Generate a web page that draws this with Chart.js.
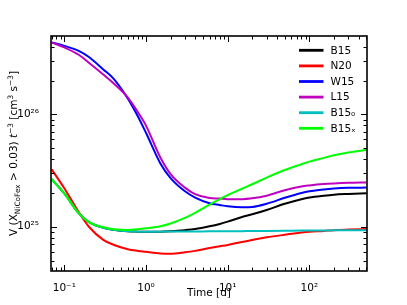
<!DOCTYPE html>
<html>
<head>
<meta charset="utf-8">
<script src="https://cdn.jsdelivr.net/npm/chart.js@4.4.0/dist/chart.umd.min.js"></script>
<style>
  html, body { margin: 0; padding: 0; background: #fff; }
</style>
</head>
<body>
<canvas id="chart" width="407" height="305"></canvas>
<script>
// time axis (days) shared by all series
const time = [0.07, 0.1, 0.15, 0.2, 0.3, 0.4, 0.6, 0.8, 1, 1.5, 2, 3, 4, 6, 8, 10, 15, 20, 30, 50, 80, 100, 150, 200, 300, 500];

// V (X_NiCoFex > 0.03) t^-3  [cm^3 s^-3]
const b15 = [2.65e25, 1.98e25, 1.32e25, 1.10e25, 9.80e24, 9.40e24, 9.10e24, 9.05e24, 9.04e24, 9.04e24, 9.12e24, 9.33e24, 9.55e24, 1.01e25, 1.06e25, 1.11e25, 1.22e25, 1.29e25, 1.41e25, 1.60e25, 1.76e25, 1.82e25, 1.89e25, 1.93e25, 1.96e25, 1.99e25];
const n20 = [3.24e25, 2.20e25, 1.35e25, 1.00e25, 7.65e24, 6.92e24, 6.31e24, 6.10e24, 5.98e24, 5.79e24, 5.75e24, 5.92e24, 6.10e24, 6.46e24, 6.70e24, 6.89e24, 7.33e24, 7.62e24, 8.05e24, 8.49e24, 8.87e24, 9.02e24, 9.18e24, 9.33e24, 9.44e24, 9.55e24];
const w15 = [4.37e26, 4.07e26, 3.67e26, 3.24e26, 2.51e26, 2.08e26, 1.38e26, 9.53e25, 6.86e25, 3.66e25, 2.71e25, 2.07e25, 1.82e25, 1.62e25, 1.56e25, 1.52e25, 1.49e25, 1.50e25, 1.60e25, 1.81e25, 2.00e25, 2.07e25, 2.15e25, 2.19e25, 2.22e25, 2.23e25];
const l15 = [4.37e26, 3.94e26, 3.39e26, 2.88e26, 2.26e26, 1.89e26, 1.41e26, 1.04e26, 7.94e25, 4.13e25, 2.94e25, 2.23e25, 1.95e25, 1.80e25, 1.78e25, 1.76e25, 1.76e25, 1.79e25, 1.89e25, 2.11e25, 2.28e25, 2.33e25, 2.40e25, 2.43e25, 2.46e25, 2.48e25];
const b15zero = [2.65e25, 1.98e25, 1.32e25, 1.10e25, 9.80e24, 9.40e24, 9.10e24, 9.05e24, 9.04e24, 9.05e24, 9.06e24, 9.07e24, 9.08e24, 9.10e24, 9.11e24, 9.12e24, 9.14e24, 9.16e24, 9.18e24, 9.21e24, 9.24e24, 9.25e24, 9.27e24, 9.29e24, 9.31e24, 9.33e24];
const b15x = [2.65e25, 1.98e25, 1.32e25, 1.10e25, 9.89e24, 9.51e24, 9.38e24, 9.51e24, 9.68e24, 1.01e25, 1.07e25, 1.20e25, 1.33e25, 1.57e25, 1.76e25, 1.91e25, 2.18e25, 2.39e25, 2.74e25, 3.20e25, 3.60e25, 3.80e25, 4.10e25, 4.32e25, 4.57e25, 4.84e25];

const seriesNames = ["B15", "N20", "W15", "L15", "B15₀", "B15ₓ"];
const seriesColors = ["#000000", "#ff0000", "#0000ff", "#bf00bf", "#00bfbf", "#00ff00"];
const seriesValues = [b15, n20, w15, l15, b15zero, b15x];

// tick labels
const xMajor = [0.1, 1, 10, 100];
const xMajorLabels = ["10⁻¹", "10⁰", "10¹", "10²"];
const yMajor = [1e25, 1e26];
const yMajorLabels = ["10²⁵", "10²⁶"];

const xMin = 0.0687, xMax = 508;
const yMin = 4.04e24, yMax = 4.98e26;

const FONT = "DejaVu Sans";
const tickFont = { family: FONT, size: 10.5 };

// majors plus 2..9 minors for each decade inside the range
function logTicks(min, max) {
  const out = [];
  for (let e = Math.floor(Math.log10(min)); e <= Math.ceil(Math.log10(max)); e++) {
    for (let k = 1; k <= 9; k++) {
      const v = k * Math.pow(10, e);
      if (v >= min && v <= max) out.push({ value: v, major: k === 1 });
    }
  }
  return out;
}

function labelFor(value, majors, labels) {
  const i = majors.findIndex((m) => Math.abs(m - value) / m < 1e-6);
  return i >= 0 ? labels[i] : "";
}

// inward ticks on all four sides + frame
const frameTicks = {
  id: "frameTicks",
  afterDatasetsDraw(chart) {
    const ctx = chart.ctx;
    const { left, right, top, bottom } = chart.chartArea;
    const xs = chart.scales.x, ys = chart.scales.y;
    ctx.save();
    ctx.strokeStyle = "#000";
    ctx.lineWidth = 1;
    ctx.beginPath();
    xs.ticks.forEach((t) => {
      const x = Math.round(xs.getPixelForValue(t.value)) + 0.5;
      const len = t.major ? 6 : 3.5;
      ctx.moveTo(x, bottom); ctx.lineTo(x, bottom - len);
      ctx.moveTo(x, top); ctx.lineTo(x, top + len);
    });
    ys.ticks.forEach((t) => {
      const y = Math.round(ys.getPixelForValue(t.value)) + 0.5;
      const len = t.major ? 6 : 3.5;
      ctx.moveTo(left, y); ctx.lineTo(left + len, y);
      ctx.moveTo(right, y); ctx.lineTo(right - len, y);
    });
    ctx.stroke();
    ctx.lineWidth = 1.6;
    ctx.strokeRect(left, top, right - left, bottom - top);
    ctx.restore();
  },
};

// text with sub/superscripts, drawn left to right from x
function drawRich(ctx, parts, x, y) {
  parts.forEach((p) => {
    ctx.font = (p.italic ? "italic " : "") + p.size + "px '" + FONT + "'";
    ctx.fillText(p.text, x, y + (p.dy || 0));
    x += ctx.measureText(p.text).width;
  });
}
function richWidth(ctx, parts) {
  let w = 0;
  parts.forEach((p) => {
    ctx.font = (p.italic ? "italic " : "") + p.size + "px '" + FONT + "'";
    w += ctx.measureText(p.text).width;
  });
  return w;
}

const yTitleParts = [
  { text: "V (X", size: 10.5 },
  { text: "NiCoFex", size: 7.4, dy: 2.6 },
  { text: " > 0.03) ", size: 10.5 },
  { text: "t", size: 10.5, italic: true },
  { text: "−3", size: 7.4, dy: -4.2 },
  { text: " [cm", size: 10.5 },
  { text: "3", size: 7.4, dy: -4.2 },
  { text: " s", size: 10.5 },
  { text: "−3", size: 7.4, dy: -4.2 },
  { text: "]", size: 10.5 },
];

const yTitle = {
  id: "yTitle",
  afterDraw(chart) {
    const ctx = chart.ctx;
    const { top, bottom } = chart.chartArea;
    ctx.save();
    ctx.fillStyle = "#000";
    ctx.textBaseline = "alphabetic";
    ctx.translate(17, (top + bottom) / 2);
    ctx.rotate(-Math.PI / 2);
    const w = richWidth(ctx, yTitleParts);
    drawRich(ctx, yTitleParts, -w / 2, 0);
    ctx.restore();
  },
};

// legend in the upper right corner of the axes
const cornerLegend = {
  id: "cornerLegend",
  afterDraw(chart) {
    const ctx = chart.ctx;
    ctx.save();
    chart.data.datasets.forEach((ds, i) => {
      const y = 50.3 + i * 15.6;
      ctx.strokeStyle = ds.borderColor;
      ctx.lineWidth = 2.8;
      ctx.beginPath();
      ctx.moveTo(299, y);
      ctx.lineTo(323.5, y);
      ctx.stroke();
      ctx.fillStyle = "#000";
      ctx.font = "10.5px '" + FONT + "'";
      ctx.textBaseline = "middle";
      ctx.fillText(ds.label, 330.5, y + 0.5);
    });
    ctx.restore();
  },
};

new Chart(document.getElementById("chart"), {
  type: "line",
  data: {
    datasets: seriesValues.map((vals, i) => ({
      label: seriesNames[i],
      data: time.map((t, j) => ({ x: t, y: vals[j] })),
      borderColor: seriesColors[i],
      borderWidth: 2,
      pointRadius: 0,
      fill: false,
      cubicInterpolationMode: "monotone",
      order: -i,
    })),
  },
  options: {
    responsive: false,
    animation: false,
    events: [],
    layout: { padding: { left: 0, top: 36, right: 40, bottom: 0 } },
    plugins: { legend: { display: false }, tooltip: { enabled: false } },
    scales: {
      x: {
        type: "logarithmic",
        min: xMin,
        max: xMax,
        grid: { display: false },
        border: { display: false },
        afterBuildTicks: (s) => { s.ticks = logTicks(xMin, xMax); },
        afterFit: (s) => { s.height = 34; },
        ticks: {
          autoSkip: false,
          maxRotation: 0,
          padding: 3,
          color: "#000",
          font: tickFont,
          callback: (v) => labelFor(v, xMajor, xMajorLabels),
        },
        title: {
          display: true,
          text: "Time [d]",
          color: "#000",
          font: tickFont,
          padding: { top: 0, bottom: 5 },
        },
      },
      y: {
        type: "logarithmic",
        min: yMin,
        max: yMax,
        grid: { display: false },
        border: { display: false },
        afterBuildTicks: (s) => { s.ticks = logTicks(yMin, yMax); },
        afterFit: (s) => { s.width = 51; },
        ticks: {
          autoSkip: false,
          padding: 4,
          color: "#000",
          font: tickFont,
          callback: (v) => labelFor(v, yMajor, yMajorLabels),
        },
      },
    },
  },
  plugins: [frameTicks, yTitle, cornerLegend],
});
</script>
</body>
</html>
